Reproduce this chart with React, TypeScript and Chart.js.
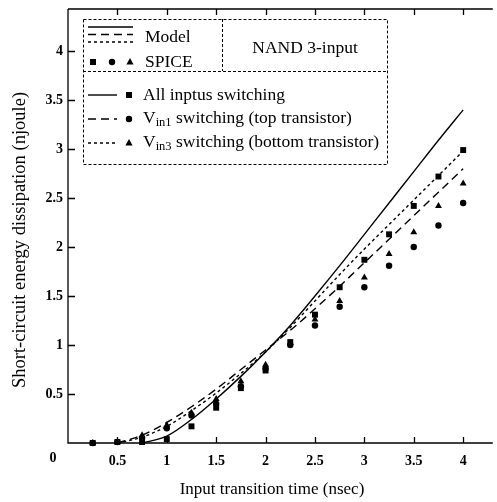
import React, { useEffect, useRef } from "react";
import { Chart, registerables } from "chart.js";

Chart.register(...registerables);

// SPICE sample times (nsec)
const spiceX = [0.25, 0.5, 0.75, 1.0, 1.25, 1.5, 1.75, 2.0, 2.25, 2.5, 2.75, 3.0, 3.25, 3.5, 3.75, 4.0];
const spiceAll = [0.0, 0.01, 0.01, 0.04, 0.17, 0.36, 0.56, 0.74, 1.03, 1.31, 1.59, 1.87, 2.13, 2.42, 2.72, 2.99];
const spiceVin1 = [0.0, 0.01, 0.05, 0.15, 0.28, 0.4, 0.58, 0.76, 1.0, 1.2, 1.39, 1.59, 1.81, 2.0, 2.22, 2.45];
const spiceVin3 = [0.0, 0.01, 0.08, 0.18, 0.31, 0.45, 0.63, 0.8, 1.02, 1.26, 1.45, 1.69, 1.93, 2.15, 2.42, 2.65];

// Model curves
const modelAllX = [0.75, 1.0, 1.25, 1.5, 1.75, 2.0, 2.25, 2.5, 2.75, 3.0, 3.25, 3.5, 3.75, 4.0];
const modelAllY = [0.0, 0.07, 0.24, 0.45, 0.68, 0.93, 1.2, 1.5, 1.81, 2.13, 2.45, 2.77, 3.09, 3.4];
const modelX = [0.5, 0.75, 1.0, 1.25, 1.5, 1.75, 2.0, 2.25, 2.5, 2.75, 3.0, 3.25, 3.5, 3.75, 4.0];
const modelVin1Y = [0.0, 0.08, 0.21, 0.37, 0.55, 0.75, 0.95, 1.15, 1.37, 1.6, 1.84, 2.08, 2.32, 2.56, 2.8];
const modelVin3Y = [0.0, 0.06, 0.17, 0.33, 0.51, 0.71, 0.93, 1.18, 1.45, 1.72, 1.98, 2.23, 2.48, 2.73, 2.98];

const xTicks = [0.5, 1, 1.5, 2, 2.5, 3, 3.5, 4];
const xTickLabels = ["0.5", "1", "1.5", "2", "2.5", "3", "3.5", "4"];
const yTicks = [0.5, 1, 1.5, 2, 2.5, 3, 3.5, 4];
const yTickLabels = ["0.5", "1", "1.5", "2", "2.5", "3", "3.5", "4"];

const xTitle = "Input transition time (nsec)";
const yTitle = "Short-circuit energy dissipation (njoule)";

const SERIF = '"Liberation Serif", "DejaVu Serif", serif';
const LONG_DASH = [8, 5];
const SHORT_DASH = [3, 3];
const LEG_FONT = `17.5px ${SERIF}`;

const pts = (xs: number[], ys: number[]) => xs.map((x, i) => ({ x, y: ys[i] }));

function drawMarker(ctx: CanvasRenderingContext2D, kind: string, x: number, y: number) {
  ctx.save();
  ctx.fillStyle = "#000";
  ctx.beginPath();
  if (kind === "rect") {
    ctx.rect(x - 3, y - 3, 6, 6);
  } else if (kind === "circle") {
    ctx.arc(x, y, 3.2, 0, Math.PI * 2);
  } else {
    ctx.moveTo(x, y - 4);
    ctx.lineTo(x + 3.6, y + 2.6);
    ctx.lineTo(x - 3.6, y + 2.6);
    ctx.closePath();
  }
  ctx.fill();
  ctx.restore();
}

function drawLineSample(ctx: CanvasRenderingContext2D, dash: number[], x1: number, x2: number, y: number) {
  ctx.save();
  ctx.strokeStyle = "#000";
  ctx.lineWidth = 1.4;
  ctx.setLineDash(dash);
  ctx.beginPath();
  ctx.moveTo(x1, y);
  ctx.lineTo(x2, y);
  ctx.stroke();
  ctx.restore();
}

function drawVText(ctx: CanvasRenderingContext2D, sub: string, rest: string, x: number, y: number) {
  ctx.font = LEG_FONT;
  ctx.fillText("V", x, y);
  let cx = x + ctx.measureText("V").width;
  ctx.font = `12.5px ${SERIF}`;
  ctx.fillText(sub, cx, y + 5);
  cx += ctx.measureText(sub).width;
  ctx.font = LEG_FONT;
  ctx.fillText(rest, cx, y);
}

const framePlugin = {
  id: "frame",
  afterDraw(chart: any) {
    const ctx: CanvasRenderingContext2D = chart.ctx;
    const { left, right, top, bottom } = chart.chartArea;
    const xs = chart.scales.x;
    const ys = chart.scales.y;
    ctx.save();
    ctx.strokeStyle = "#000";
    ctx.fillStyle = "#000";
    ctx.lineWidth = 1.3;
    // axes lines (left, bottom, top)
    ctx.beginPath();
    ctx.moveTo(left, top);
    ctx.lineTo(right, top);
    ctx.moveTo(left, top);
    ctx.lineTo(left, bottom);
    ctx.lineTo(right, bottom);
    ctx.stroke();
    // ticks
    ctx.beginPath();
    xTicks.forEach((v) => {
      const px = Math.round(xs.getPixelForValue(v)) + 0.5;
      ctx.moveTo(px, bottom);
      ctx.lineTo(px, bottom - 6);
      ctx.moveTo(px, top);
      ctx.lineTo(px, top + 6);
    });
    yTicks.forEach((v) => {
      const py = Math.round(ys.getPixelForValue(v)) + 0.5;
      ctx.moveTo(left, py);
      ctx.lineTo(left + 7, py);
    });
    ctx.stroke();
    // tick labels
    ctx.font = `bold 14px ${SERIF}`;
    ctx.textAlign = "center";
    ctx.textBaseline = "middle";
    xTicks.forEach((v, i) => {
      ctx.fillText(xTickLabels[i], xs.getPixelForValue(v), bottom + 18);
    });
    ctx.textAlign = "right";
    yTicks.forEach((v, i) => {
      ctx.fillText(yTickLabels[i], left - 5, ys.getPixelForValue(v));
    });
    ctx.textAlign = "center";
    ctx.fillText("0", left - 15, bottom + 15);
    // axis titles
    ctx.font = `17px ${SERIF}`;
    ctx.fillText(xTitle, 272, 490);
    ctx.save();
    ctx.translate(20, 240);
    ctx.rotate(-Math.PI / 2);
    ctx.font = `18.5px ${SERIF}`;
    ctx.fillText(yTitle, 0, 0);
    ctx.restore();

    // legend box
    const bx1 = 83, bx2 = 387, by1 = 19, by2 = 164, bmid = 71, bdiv = 222;
    ctx.fillStyle = "#fff";
    ctx.fillRect(bx1, by1, bx2 - bx1, by2 - by1);
    ctx.fillStyle = "#000";
    ctx.lineWidth = 1;
    ctx.setLineDash([3, 2]);
    ctx.beginPath();
    ctx.rect(bx1 + 0.5, by1 + 0.5, bx2 - bx1, by2 - by1);
    ctx.moveTo(bx1, bmid + 0.5);
    ctx.lineTo(bx2, bmid + 0.5);
    ctx.moveTo(bdiv + 0.5, by1);
    ctx.lineTo(bdiv + 0.5, bmid);
    ctx.stroke();
    ctx.setLineDash([]);

    // Model samples
    drawLineSample(ctx, [], 88, 133, 27);
    drawLineSample(ctx, LONG_DASH, 88, 133, 34.5);
    drawLineSample(ctx, SHORT_DASH, 88, 133, 42);
    // SPICE markers
    drawMarker(ctx, "rect", 93, 62);
    drawMarker(ctx, "circle", 112, 62);
    drawMarker(ctx, "triangle", 130, 62);

    ctx.font = LEG_FONT;
    ctx.textAlign = "left";
    ctx.textBaseline = "middle";
    ctx.fillText("Model", 145, 37);
    ctx.fillText("SPICE", 145, 62);
    ctx.textAlign = "center";
    ctx.fillText("NAND 3-input", 305, 48);
    ctx.textAlign = "left";

    // rows
    drawLineSample(ctx, [], 88, 117, 95);
    drawMarker(ctx, "rect", 129, 95);
    ctx.fillText("All inptus switching", 143, 95);

    drawLineSample(ctx, LONG_DASH, 88, 117, 119);
    drawMarker(ctx, "circle", 129, 119);
    drawVText(ctx, "in1", " switching (top transistor)", 143, 118);

    drawLineSample(ctx, SHORT_DASH, 88, 117, 143);
    drawMarker(ctx, "triangle", 129, 143);
    drawVText(ctx, "in3", " switching (bottom transistor)", 143, 142);

    ctx.restore();
  },
};

export default function App() {
  const ref = useRef<HTMLCanvasElement | null>(null);
  useEffect(() => {
    if (!ref.current) return;
    const lineBase = {
      borderColor: "#000",
      borderWidth: 1.4,
      pointRadius: 0,
      fill: false,
      cubicInterpolationMode: "monotone" as const,
      clip: false as any,
    };
    const pointBase = {
      showLine: false,
      backgroundColor: "#000",
      borderColor: "#000",
      borderWidth: 0,
      clip: false as any,
    };
    const chart = new Chart(ref.current, {
      type: "line",
      data: {
        datasets: [
          { ...lineBase, label: "Model all", data: pts(modelAllX, modelAllY) },
          { ...lineBase, label: "Model Vin1", data: pts(modelX, modelVin1Y), borderDash: LONG_DASH },
          { ...lineBase, label: "Model Vin3", data: pts(modelX, modelVin3Y), borderDash: SHORT_DASH },
          { ...pointBase, label: "SPICE all", data: pts(spiceX, spiceAll), pointStyle: "rect", pointRadius: 4.2 },
          { ...pointBase, label: "SPICE Vin1", data: pts(spiceX, spiceVin1), pointStyle: "circle", pointRadius: 3.2 },
          { ...pointBase, label: "SPICE Vin3", data: pts(spiceX, spiceVin3), pointStyle: "triangle", pointRadius: 4 },
        ],
      },
      options: {
        animation: false,
        responsive: false,
        devicePixelRatio: 1,
        layout: { padding: { left: 68, right: 0, top: 9, bottom: 59 } },
        plugins: { legend: { display: false }, tooltip: { enabled: false } },
        events: [],
        scales: {
          x: { type: "linear", min: 0, max: 4.3, display: false },
          y: { type: "linear", min: 0, max: 4.43, display: false },
        },
      },
      plugins: [framePlugin],
    });
    return () => chart.destroy();
  }, []);
  return (
    <div style={{ position: "fixed", left: 0, top: 0, width: 497, height: 502, background: "#fff" }}>
      <canvas ref={ref} width={497} height={502} style={{ width: 497, height: 502, display: "block" }} />
    </div>
  );
}
